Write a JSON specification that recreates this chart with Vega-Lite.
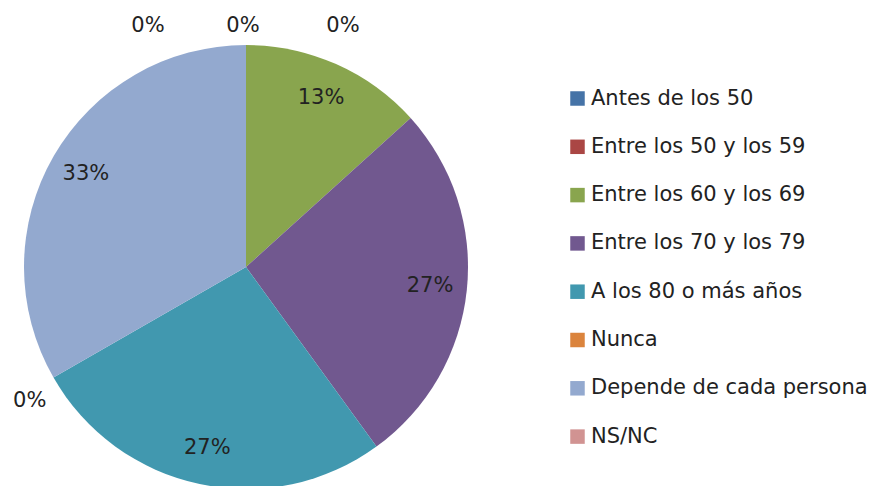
{
  "$schema": "https://vega.github.io/schema/vega-lite/v6.json",
  "width": 492,
  "height": 534,
  "padding": 0,
  "background": "white",
  "config": {"view": {"stroke": null}, "font": "DejaVu Sans"},
  "data": {"values": [
    {"idx": 1, "cat": "Antes de los 50", "value": 0},
    {"idx": 2, "cat": "Entre los 50 y los 59", "value": 0},
    {"idx": 3, "cat": "Entre los 60 y los 69", "value": 0.133},
    {"idx": 4, "cat": "Entre los 70 y los 79", "value": 0.267},
    {"idx": 5, "cat": "A los 80 o más años", "value": 0.267},
    {"idx": 6, "cat": "Nunca", "value": 0},
    {"idx": 7, "cat": "Depende de cada persona", "value": 0.333},
    {"idx": 8, "cat": "NS/NC", "value": 0}
  ]},
  "encoding": {
    "theta": {"field": "value", "type": "quantitative", "stack": true},
    "order": {"field": "idx", "type": "quantitative"}
  },
  "layer": [
    {
      "mark": {"type": "arc", "outerRadius": 222},
      "encoding": {
        "color": {
          "field": "cat", "type": "nominal",
          "scale": {
            "domain": ["Antes de los 50", "Entre los 50 y los 59", "Entre los 60 y los 69", "Entre los 70 y los 79", "A los 80 o más años", "Nunca", "Depende de cada persona", "NS/NC"],
            "range": ["#4573A7", "#AA4644", "#89A54E", "#71588F", "#4198AF", "#DB843D", "#93A9CF", "#D19392"]
          },
          "legend": {
            "title": null,
            "orient": "none",
            "legendX": 567,
            "legendY": 88,
            "symbolType": "square",
            "symbolSize": 210,
            "symbolStrokeWidth": 0,
            "labelFont": "DejaVu Sans",
            "labelFontSize": 21,
            "labelColor": "#222222",
            "labelOffset": 3,
            "rowPadding": 26.3,
            "labelLimit": 400
          }
        }
      }
    },
    {
      "mark": {"type": "text", "radius": 185, "fontSize": 21, "color": "#222222", "font": "DejaVu Sans"},
      "encoding": {
        "text": {"condition": {"test": "datum.value > 0", "field": "value", "format": ".0%"}, "value": ""}
      }
    },
    {
      "transform": [{"filter": "datum.idx === 1"}],
      "mark": {"type": "text", "radius": 241, "dx": -3, "fontSize": 21, "color": "#222222", "font": "DejaVu Sans"},
      "encoding": {"text": {"field": "value", "format": ".0%"}}
    },
    {
      "transform": [{"filter": "datum.idx === 2"}],
      "mark": {"type": "text", "radius": 241, "dx": 97, "fontSize": 21, "color": "#222222", "font": "DejaVu Sans"},
      "encoding": {"text": {"field": "value", "format": ".0%"}}
    },
    {
      "transform": [{"filter": "datum.idx === 8"}],
      "mark": {"type": "text", "radius": 241, "dx": -98, "fontSize": 21, "color": "#222222", "font": "DejaVu Sans"},
      "encoding": {"text": {"field": "value", "format": ".0%"}}
    },
    {
      "mark": {"type": "text", "radius": 254, "dx": 4, "dy": 7, "fontSize": 21, "color": "#222222", "font": "DejaVu Sans"},
      "encoding": {
        "text": {"condition": {"test": "datum.cat === 'Nunca'", "field": "value", "format": ".0%"}, "value": ""}
      }
    }
  ]
}
